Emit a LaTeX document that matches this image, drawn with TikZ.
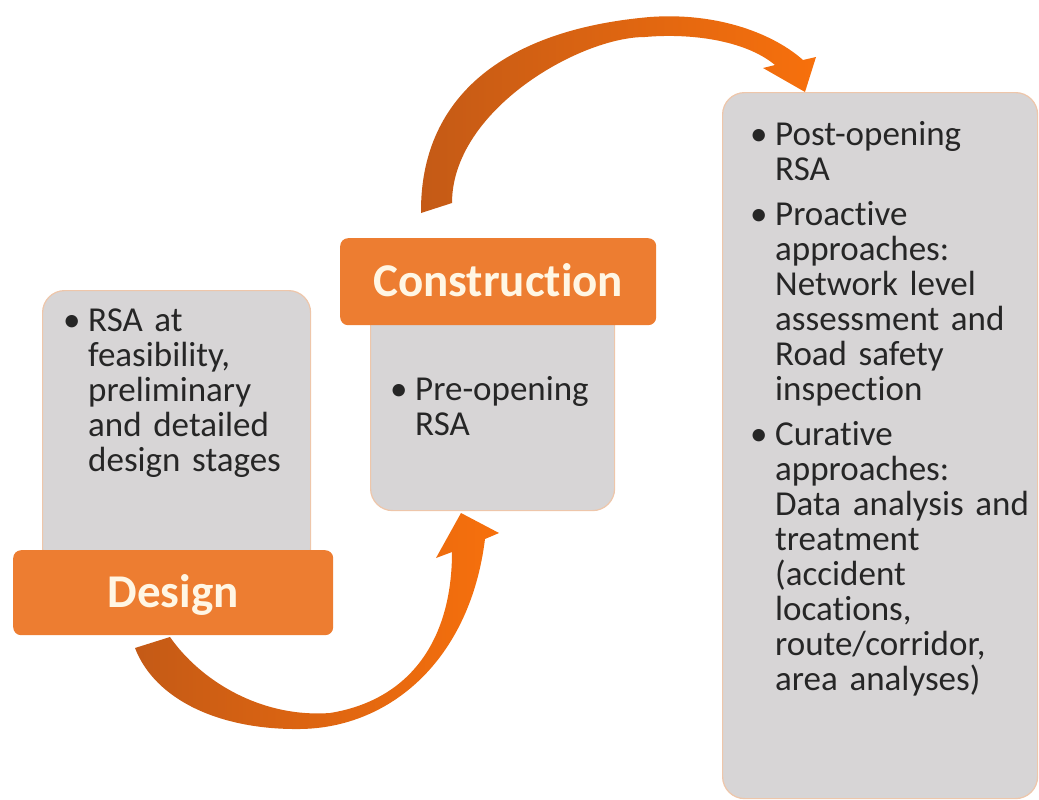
\documentclass[tikz,border=0pt]{standalone}
\usepackage{fontspec}
\setmainfont{Carlito}[Ligatures=NoCommon]
\usetikzlibrary{positioning}
\setlength{\parskip}{0pt}
\definecolor{rsaorange}{RGB}{237,125,49}
\definecolor{headcream}{RGB}{255,246,228}
\definecolor{panelgray}{RGB}{215,213,214}
\definecolor{paneledge}{RGB}{238,198,170}
\definecolor{bodyink}{RGB}{38,38,38}
\definecolor{arrowdark}{RGB}{196,90,22}
\definecolor{arrowbright}{RGB}{247,112,12}
\newcommand{\rsaitem}[1]{\par\noindent\hangindent=25pt\hangafter=1\makebox[25pt][l]{\textbullet}#1\par}

\begin{document}
\begin{tikzpicture}[x=1pt, y=-1pt,
		panel/.style={draw=paneledge, line width=1.2pt, fill=panelgray, rounded corners=22pt, anchor=north west, inner sep=0pt},
		stage/.style={fill=rsaorange, rounded corners=8pt, anchor=north west, inner sep=0pt, text=headcream, font=\bfseries\fontsize{47}{50}\selectfont, text height=30pt, text depth=0pt},
		items/.style={anchor=north west, inner sep=0pt, text=bodyink, font=\fontsize{35}{35}\selectfont, text width=#1},
		bentarrow/.style={left color=arrowdark, right color=arrowbright}]
		\useasboundingbox (0,0) rectangle (1039,800);
		\shade[bentarrow] (135,648) .. controls (155,700) and (220,730) .. (300,729) .. controls (390,728) and (470,660) .. (485,539) -- (499,533) -- (461,513) -- (436,558) -- (452,552) .. controls (452,640) and (410,700) .. (330,713) .. controls (260,718) and (200,680) .. (170,637) -- cycle;
		\shade[bentarrow] (421,213) .. controls (420,100) and (500,30) .. (650,17) .. controls (720,12) and (775,35) .. (803,60) -- (816,57) -- (805,92) -- (763,68) -- (775,65) .. controls (745,40) and (690,33) .. (645,37) .. controls (580,37) and (452,110) .. (452,203) -- cycle;
		\node[panel, minimum width=268pt, minimum height=280pt] (designpanel) at (42,290) {};
		\node[panel, minimum width=244pt, minimum height=210pt] (conspanel) at (370,300) {};
		\node[panel, minimum width=315pt, minimum height=706pt] (postpanel) at (722,92) {};
		\node[stage, minimum width=320pt, minimum height=85pt] (designstage) at (13,550) {Design};
		\node[stage, minimum width=316pt, minimum height=87pt] (consstage) at (340,238) {Construction};
		\node[items=230pt, below right=6pt and 21pt of designpanel.north west] (designitems) {\rsaitem{RSA at\newline feasibility,\newline preliminary\newline and detailed\newline design stages}};
		\node[items=220pt, below right=65pt and 20pt of conspanel.north west] (consitems) {\rsaitem{Pre-opening\newline RSA}};
		\node[items=285pt, below right=18pt and 28pt of postpanel.north west] (postitems) {\rsaitem{Post-opening\newline RSA}\vspace{10pt}
			\rsaitem{Proactive\newline approaches:\newline Network level\newline assessment and\newline Road safety\newline inspection}\vspace{10pt}
			\rsaitem{Curative\newline approaches:\newline Data analysis and\newline treatment\newline (accident\newline locations,\newline route/corridor,\newline area analyses)}};
	\end{tikzpicture}
\end{document}
